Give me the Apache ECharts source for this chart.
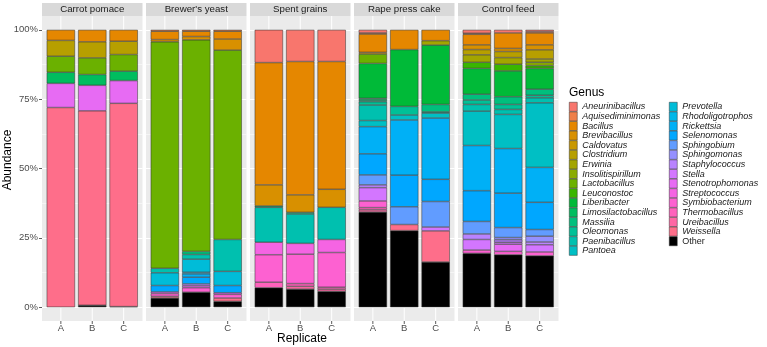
<!DOCTYPE html>
<html>
<head>
<meta charset="utf-8">
<script src="https://cdn.jsdelivr.net/npm/echarts@6/dist/echarts.min.js"></script>
<style>html,body{margin:0;padding:0;background:#fff}#c{width:767px;height:347px}</style>
</head>
<body>
<div id="c"></div>
<script>
const facets = ['Carrot pomace', "Brewer's yeast", 'Spent grains', 'Rape press cake', 'Control feed'];
const replicates = ['A', 'B', 'C'];
const genera = ['Aneurinibacillus','Aquisediminimonas','Bacillus','Brevibacillus','Caldovatus','Clostridium','Erwinia','Insolitispirillum','Lactobacillus','Leuconostoc','Liberibacter','Limosilactobacillus','Massilia','Oleomonas','Paenibacillus','Pantoea','Prevotella','Rhodoligotrophos','Rickettsia','Selenomonas','Sphingobium','Sphingomonas','Staphylococcus','Stella','Stenotrophomonas','Streptococcus','Symbiobacterium','Thermobacillus','Ureibacillus','Weissella','Other'];
const yTickValues = [0, 25, 50, 75, 100];
const yTickLabels = ['0%', '25%', '50%', '75%', '100%'];

// [genus, A, B, C] abundance in %
const carrotPomace = [
  ['Bacillus', 3.8, 4.3, 4.1],
  ['Clostridium', 5.7, 5.8, 4.8],
  ['Lactobacillus', 5.8, 6.0, 6.0],
  ['Limosilactobacillus', 4.0, 3.9, 3.4],
  ['Stenotrophomonas', 8.7, 9.2, 8.2],
  ['Weissella', 72.0, 70.1, 73.3],
  ['Other', 0, 0.7, 0.2]
];
const brewersYeast = [
  ['Aquisediminimonas', 0.5, 0.5, 0.5],
  ['Bacillus', 3.0, 1.9, 2.8],
  ['Brevibacillus', 0.8, 1.2, 4.0],
  ['Lactobacillus', 81.7, 76.3, 68.3],
  ['Massilia', 0, 1.1, 0],
  ['Paenibacillus', 1.6, 1.7, 11.5],
  ['Prevotella', 4.6, 4.7, 5.1],
  ['Rhodoligotrophos', 0, 0.6, 0],
  ['Rickettsia', 0, 1.2, 0],
  ['Selenomonas', 2.3, 2.4, 2.6],
  ['Staphylococcus', 0, 0.7, 0],
  ['Stenotrophomonas', 0.6, 0.7, 0.6],
  ['Symbiobacterium', 1.0, 1.6, 1.3],
  ['Weissella', 0.6, 0, 1.2],
  ['Other', 3.3, 5.4, 2.1]
];
const spentGrains = [
  ['Aneurinibacillus', 11.8, 11.4, 11.4],
  ['Bacillus', 44.1, 48.1, 46.1],
  ['Brevibacillus', 7.6, 6.3, 6.5],
  ['Massilia', 0.5, 0.6, 0],
  ['Paenibacillus', 12.6, 10.6, 11.6],
  ['Streptococcus', 4.5, 3.9, 4.7],
  ['Symbiobacterium', 9.9, 10.6, 12.5],
  ['Thermobacillus', 2.0, 1.0, 0.7],
  ['Ureibacillus', 0, 1.0, 0.8],
  ['Other', 7.0, 6.5, 5.7]
];
const rapePressCake = [
  ['Aneurinibacillus', 1.1, 0, 0],
  ['Aquisediminimonas', 0.4, 0, 0],
  ['Bacillus', 6.6, 7.1, 3.9],
  ['Brevibacillus', 0.6, 0, 0],
  ['Erwinia', 0, 0, 1.6],
  ['Lactobacillus', 3.4, 0, 0],
  ['Liberibacter', 12.6, 20.5, 21.4],
  ['Limosilactobacillus', 0.6, 0, 0],
  ['Massilia', 0.6, 0, 2.7],
  ['Oleomonas', 1.2, 3.1, 0.4],
  ['Paenibacillus', 5.6, 0, 0],
  ['Pantoea', 2.2, 1.8, 1.8],
  ['Rickettsia', 9.8, 19.9, 22.1],
  ['Selenomonas', 7.6, 11.4, 8.0],
  ['Sphingobium', 3.6, 6.4, 9.2],
  ['Staphylococcus', 1.0, 0, 0],
  ['Stella', 4.8, 0, 1.4],
  ['Symbiobacterium', 2.4, 0, 0],
  ['Thermobacillus', 0.8, 0, 0],
  ['Ureibacillus', 0.8, 0, 0],
  ['Weissella', 0, 2.2, 11.2],
  ['Other', 34.3, 27.6, 16.3]
];
const controlFeed = [
  ['Aneurinibacillus', 1.2, 1.1, 0.6],
  ['Aquisediminimonas', 0.4, 0, 0.5],
  ['Bacillus', 3.8, 5.6, 4.3],
  ['Brevibacillus', 1.7, 1.1, 1.8],
  ['Clostridium', 1.9, 2.2, 3.3],
  ['Erwinia', 2.7, 2.4, 1.2],
  ['Insolitispirillum', 0, 0, 1.2],
  ['Leuconostoc', 2.2, 2.4, 1.0],
  ['Liberibacter', 9.3, 9.3, 7.5],
  ['Massilia', 2.1, 2.8, 2.2],
  ['Oleomonas', 1.6, 1.8, 0.9],
  ['Paenibacillus', 2.4, 1.8, 1.8],
  ['Pantoea', 12.4, 12.3, 23.3],
  ['Rickettsia', 16.3, 16.1, 12.6],
  ['Selenomonas', 11.1, 12.4, 9.8],
  ['Sphingobium', 4.5, 3.6, 2.4],
  ['Sphingomonas', 0, 0.8, 2.1],
  ['Staphylococcus', 2.0, 0.9, 1.0],
  ['Stella', 3.8, 0.7, 2.6],
  ['Stenotrophomonas', 0, 2.6, 0],
  ['Symbiobacterium', 1.2, 1.2, 1.4],
  ['Other', 19.4, 18.9, 18.5]
];
const facetData = [carrotPomace, brewersYeast, spentGrains, rapePressCake, controlFeed];

// ggplot2 hue palette (hcl, c=100, l=65)
function hcl(h, c, l) {
  const hr = h * Math.PI / 180;
  const U = c * Math.cos(hr), V = c * Math.sin(hr);
  const Xn = 95.047, Yn = 100, Zn = 108.883;
  const Y = Yn * (l > 8 ? Math.pow((l + 16) / 116, 3) : l / 903.3);
  const den = Xn + 15 * Yn + 3 * Zn;
  const un = 4 * Xn / den, vn = 9 * Yn / den;
  const u = U / (13 * l) + un, v = V / (13 * l) + vn;
  const X = Y * 9 * u / (4 * v);
  const Z = Y * (12 - 3 * u - 20 * v) / (4 * v);
  const x = X / 100, y = Y / 100, z = Z / 100;
  let r = 3.240479 * x - 1.537150 * y - 0.498535 * z;
  let g = -0.969256 * x + 1.875992 * y + 0.041556 * z;
  let b = 0.055648 * x - 0.204043 * y + 1.057311 * z;
  const gam = t => { t = t <= 0.0031308 ? 12.92 * t : 1.055 * Math.pow(t, 1 / 2.4) - 0.055; return Math.round(Math.max(0, Math.min(1, t)) * 255); };
  return 'rgb(' + gam(r) + ',' + gam(g) + ',' + gam(b) + ')';
}
const nG = genera.length - 1;
const colors = genera.map((g, i) => i < nG ? hcl(15 + 360 * i / nG, 100, 65) : '#000000');

const FONT = '"Liberation Sans", Arial, Helvetica, sans-serif';
const panelLeft0 = 42, panelStep = 104, panelW = 100.5;
const panelTop = 16, panelBottom = 321;
const unit = panelW / 3.2;
const yPx100 = panelTop + (panelBottom - panelTop) * 5 / 110;
const yPx0 = panelBottom - (panelBottom - panelTop) * 5 / 110;

const chart = echarts.init(document.getElementById('c'), null, { renderer: 'canvas' });

const grids = [], xAxes = [], yAxes = [], series = [];
facets.forEach((f, fi) => {
  const pl = panelLeft0 + fi * panelStep;
  grids.push({ left: pl + 0.1 * unit, width: 3 * unit, top: yPx100, height: yPx0 - yPx100 });
  xAxes.push({ type: 'category', gridIndex: fi, data: replicates,
    axisLine: { show: false }, axisTick: { show: false }, splitLine: { show: false },
    axisLabel: { margin: 16, fontSize: 9.5, color: '#4D4D4D', fontFamily: FONT } });
  yAxes.push({ type: 'value', gridIndex: fi, min: 0, max: 100, show: false });
});
facets.forEach((f, fi) => {
  const pl = panelLeft0 + fi * panelStep;
  grids.push({ left: pl, width: panelW, top: yPx100, height: yPx0 - yPx100 });
  xAxes.push({ type: 'category', gridIndex: 5 + fi, data: replicates, show: false });
  yAxes.push({ type: 'value', gridIndex: 5 + fi, min: 0, max: 100, interval: 25,
    axisLine: { show: false },
    axisTick: { show: fi === 0, length: 3, lineStyle: { color: '#333333', width: 0.8 } },
    axisLabel: { show: fi === 0, margin: 4, fontSize: 9.5, color: '#4D4D4D', fontFamily: FONT,
      formatter: v => yTickLabels[yTickValues.indexOf(v)] },
    splitLine: { show: true, lineStyle: { color: '#FFFFFF', width: 1 } },
    minorTick: { show: false, splitNumber: 2 },
    minorSplitLine: { show: true, lineStyle: { color: '#FFFFFF', width: 0.5 } } });
});

facetData.forEach((rows, fi) => {
  for (let gi = genera.length - 1; gi >= 0; gi--) {
    const g = genera[gi];
    const row = rows.find(r => r[0] === g);
    series.push({
      type: 'bar', name: g, xAxisIndex: fi, yAxisIndex: fi, stack: 'facet' + fi,
      barWidth: 0.9 * unit,
      data: replicates.map((r, ri) => (row && row[ri + 1]) ? row[ri + 1] : null),
      itemStyle: { color: colors[gi], borderColor: '#333333', borderWidth: 0.5 },
      emphasis: { disabled: true }, silent: true
    });
  }
});

const legendItems = genera.map(g => g === 'Other' ? { name: g, textStyle: { fontStyle: 'normal' } } : { name: g });
const legendBase = {
  orient: 'vertical', top: 102, itemWidth: 8, itemHeight: 9.1, itemGap: 0, padding: 0,
  icon: 'rect', selectedMode: false,
  itemStyle: { borderColor: '#333333', borderWidth: 0.5 },
  textStyle: { fontSize: 9, fontStyle: 'italic', color: '#1A1A1A', fontFamily: FONT, lineHeight: 9.1 }
};

chart.setOption({
  animation: false,
  grid: grids, xAxis: xAxes, yAxis: yAxes, series: series,
  legend: [
    Object.assign({}, legendBase, { left: 569, data: legendItems.slice(0, 16) }),
    Object.assign({}, legendBase, { left: 669, data: legendItems.slice(16) })
  ]
});

// decorations: panel backgrounds, strips, titles, gridlines outside data range
const gfx = [];
facets.forEach((f, fi) => {
  const pl = panelLeft0 + fi * panelStep;
  gfx.push({ type: 'rect', z: -100, silent: true, shape: { x: pl, y: panelTop, width: panelW, height: panelBottom - panelTop }, style: { fill: '#EBEBEB' } });
  gfx.push({ type: 'rect', z: -100, silent: true, shape: { x: pl, y: 3, width: panelW, height: 13 }, style: { fill: '#D9D9D9' } });
  gfx.push({ type: 'text', silent: true, x: pl + panelW / 2, y: 9.6, style: { text: f, fill: '#1A1A1A', font: '9.7px ' + FONT, textAlign: 'center', textVerticalAlign: 'middle' } });
  replicates.forEach(r => {
    const px = chart.convertToPixel({ xAxisIndex: fi }, r);
    gfx.push({ type: 'line', z: -50, silent: true, shape: { x1: px, y1: panelTop, x2: px, y2: yPx100 }, style: { stroke: '#FFFFFF', lineWidth: 1 } });
    gfx.push({ type: 'line', z: -50, silent: true, shape: { x1: px, y1: yPx0, x2: px, y2: panelBottom }, style: { stroke: '#FFFFFF', lineWidth: 1 } });
    gfx.push({ type: 'line', silent: true, shape: { x1: px, y1: panelBottom, x2: px, y2: panelBottom + 3 }, style: { stroke: '#333333', lineWidth: 0.8 } });
  });
});
gfx.push({ type: 'text', silent: true, x: 8, y: 160, rotation: Math.PI / 2, style: { text: 'Abundance', fill: '#000000', font: '12px ' + FONT, textAlign: 'center', textVerticalAlign: 'middle' } });
gfx.push({ type: 'text', silent: true, x: 302, y: 339, style: { text: 'Replicate', fill: '#000000', font: '12px ' + FONT, textAlign: 'center', textVerticalAlign: 'middle' } });
gfx.push({ type: 'text', silent: true, x: 569, y: 93, style: { text: 'Genus', fill: '#000000', font: '12px ' + FONT, textAlign: 'left', textVerticalAlign: 'middle' } });
chart.setOption({ graphic: gfx });
</script>
</body>
</html>
